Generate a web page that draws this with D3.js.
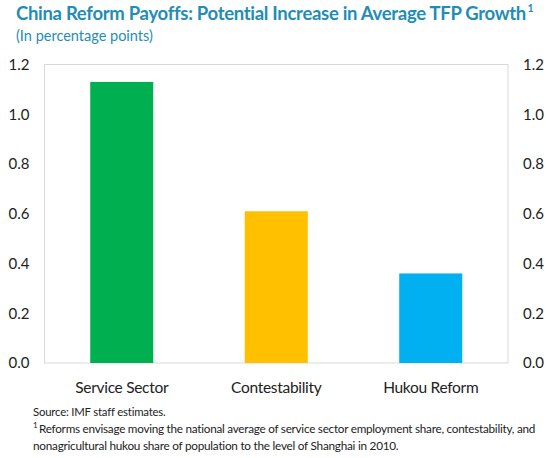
<!DOCTYPE html>
<html>
<head>
<meta charset="utf-8">
<script src="https://cdn.jsdelivr.net/npm/d3@7"></script>
<style>
  html, body { margin: 0; padding: 0; background: #fff; }
  svg text { font-family: Lato, "Open Sans", sans-serif; }
</style>
</head>
<body>
<svg id="chart" width="546" height="458"></svg>
<script>
// Chart data
const categories = ["Service Sector", "Contestability", "Hukou Reform"];
const values = [1.13, 0.61, 0.36];
const barColors = ["#00b050", "#ffc000", "#00b0f0"];
const tickValues = [0, 0.2, 0.4, 0.6, 0.8, 1.0, 1.2];
const titleText = "China Reform Payoffs: Potential Increase in Average TFP Growth";
const subtitleText = "(In percentage points)";
const sourceText = "Source: IMF staff estimates.";
const noteLines = [
  "Reforms envisage moving the national average of service sector employment share, contestability, and",
  "nonagricultural hukou share of population to the level of Shanghai in 2010."
];

const svg = d3.select("#chart");
const teal = "#1f8db5";

// Shrink a text's font size until its natural width fits the given width
function fitWidth(sel, width) {
  sel.each(function () {
    const t = d3.select(this);
    let fs = parseFloat(t.attr("font-size"));
    const w = this.getComputedTextLength();
    if (w > width) {
      fs = fs * width / w;
      t.attr("font-size", fs.toFixed(2));
    }
  });
  return sel;
}

const plot = { left: 44.5, right: 508, top: 64.5, bottom: 363 };

const x = d3.scaleBand()
  .domain(categories)
  .range([plot.left, plot.right])
  .paddingInner(0.592)
  .paddingOuter(0.296);

const y = d3.scaleLinear()
  .domain([0, 1.2])
  .range([plot.bottom, plot.top]);

// Title, footnote marker placed right after it, and subtitle
const title = fitWidth(svg.append("text")
  .attr("x", 16).attr("y", 20)
  .attr("fill", teal)
  .attr("font-size", 18.5).attr("font-weight", "bold")
  .attr("letter-spacing", -0.3)
  .text(titleText), 514);
const titleEnd = 16 + title.node().getComputedTextLength();
svg.append("text")
  .attr("x", titleEnd + 1.5).attr("y", 12)
  .attr("fill", teal)
  .attr("font-size", 10.5).attr("font-weight", "bold")
  .text("1");
fitWidth(svg.append("text")
  .attr("x", 16).attr("y", 41)
  .attr("fill", teal)
  .attr("font-size", 15)
  .text(subtitleText), 137);

// Plot frame
svg.append("rect")
  .attr("x", plot.left).attr("y", plot.top)
  .attr("width", plot.right - plot.left).attr("height", plot.bottom - plot.top)
  .attr("fill", "none").attr("stroke", "#d9d9d9").attr("stroke-width", 1);

// Bars
svg.append("g").selectAll("rect")
  .data(categories)
  .join("rect")
  .attr("x", d => x(d))
  .attr("width", x.bandwidth())
  .attr("y", (d, i) => y(values[i]))
  .attr("height", (d, i) => y(0) - y(values[i]))
  .attr("fill", (d, i) => barColors[i]);

// Left and right value axes
const fmt = d3.format(".1f");
const leftAxis = svg.append("g")
  .attr("transform", `translate(${plot.left - 15},0)`)
  .call(d3.axisLeft(y).tickValues(tickValues).tickFormat(fmt).tickSize(0).tickPadding(0));
const rightAxis = svg.append("g")
  .attr("transform", `translate(${plot.right + 15},0)`)
  .call(d3.axisRight(y).tickValues(tickValues).tickFormat(fmt).tickSize(0).tickPadding(0));
[leftAxis, rightAxis].forEach(g => {
  g.select(".domain").remove();
  g.selectAll("text")
    .attr("font-family", "Lato, 'Open Sans', sans-serif")
    .attr("font-size", 15)
    .attr("fill", "#222");
});

// Category axis
const xAxis = svg.append("g")
  .attr("transform", `translate(0,${plot.bottom})`)
  .call(d3.axisBottom(x).tickSize(0).tickPadding(19));
xAxis.select(".domain").remove();
xAxis.selectAll("text")
  .attr("font-family", "Lato, 'Open Sans', sans-serif")
  .attr("font-size", 15.5)
  .attr("letter-spacing", -0.3)
  .attr("fill", "#222");

// Source and footnote
fitWidth(svg.append("text")
  .attr("x", 33).attr("y", 416)
  .attr("font-size", 12).attr("fill", "#222")
  .attr("letter-spacing", -0.2)
  .text(sourceText), 133);
svg.append("text")
  .attr("x", 33).attr("y", 428)
  .attr("font-size", 8).attr("fill", "#222")
  .text("1");
fitWidth(svg.append("text")
  .attr("x", 39).attr("y", 433)
  .attr("font-size", 12).attr("fill", "#222")
  .attr("letter-spacing", -0.25)
  .text(noteLines[0]), 497);
fitWidth(svg.append("text")
  .attr("x", 33).attr("y", 450)
  .attr("font-size", 12).attr("fill", "#222")
  .attr("letter-spacing", -0.25)
  .text(noteLines[1]), 366);
</script>
</body>
</html>
